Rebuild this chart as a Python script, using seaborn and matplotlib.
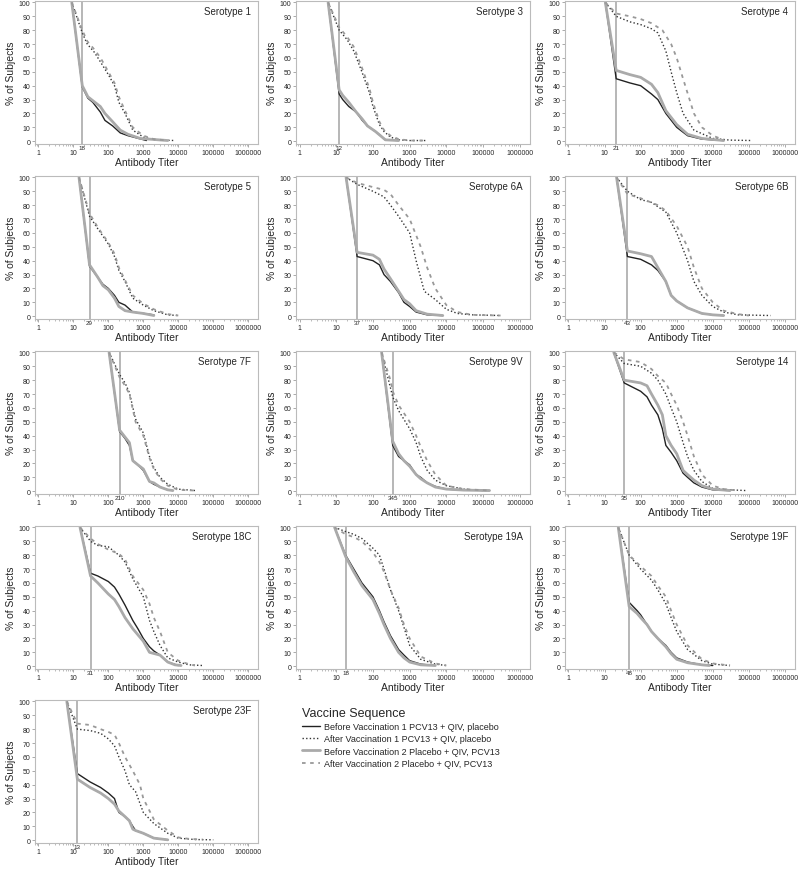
import matplotlib
matplotlib.use("Agg")
import matplotlib.pyplot as plt
from matplotlib.lines import Line2D
from matplotlib.ticker import LogLocator, NullFormatter, FixedLocator
import seaborn as sns

# serotypes and the LLOQ drawn as a vertical reference line
serotypes = ["1", "3", "4", "5", "6A", "6B", "7F", "9V", "14", "18C", "19A", "19F", "23F"]
lloq = [18, 12, 21, 29, 37, 43, 210, 345, 35, 31, 18, 48, 13]
start_titer = [9, 6, 10.5, 14.5, 18.5, 21.5, 105, 172, 18, 15.5, 9, 24, 6.5]

# reverse cumulative curves, (titers after the LLOQ, % of subjects)
before1 = {
    "1": ([18, 26, 36, 59, 80, 133, 219, 364, 817, 1230], [39, 31, 28, 21, 15, 11, 6, 4, 1.7, 0.5]),
    "3": ([12, 15, 22, 35, 51, 71, 117, 160, 218, 500], [34, 30, 25, 21, 15, 11, 7, 4, 1, 0.5]),
    "4": ([21, 50, 100, 200, 300, 500, 1000, 2000, 5000, 20000], [45, 42, 40, 34, 30, 20, 10, 4, 1.5, 0.5]),
    "5": ([29, 50, 70, 100, 150, 200, 300, 500, 1000, 2000], [36, 28, 23, 20, 15, 10, 8, 3, 2, 1]),
    "6A": ([37, 100, 150, 200, 300, 500, 700, 1000, 1500, 3000, 8000], [43, 40, 37, 30, 25, 17, 10, 7, 3, 1, 0.5]),
    "6B": ([43, 100, 200, 300, 500, 700, 1000, 2000, 5000, 10000, 20000], [43, 41, 37, 33, 25, 15, 11, 6, 2, 1, 0.5]),
    "7F": ([210, 300, 400, 500, 700, 1000, 1500, 2000, 3000, 5000, 7000], [43, 38, 33, 22, 19, 15, 7, 5, 3, 1, 0.5]),
    "9V": ([345, 500, 700, 1000, 1500, 2000, 3000, 5000, 10000, 30000, 150000], [33, 25, 22, 19, 12, 10, 6, 3.5, 1.5, 0.8, 0.5]),
    "14": ([35, 100, 150, 200, 300, 400, 500, 700, 1000, 1500, 2000, 3000, 5000, 10000, 30000],
           [78, 72, 68, 62, 55, 45, 33, 28, 22, 13, 10, 6, 3, 1, 0.5]),
    "18C": ([31, 50, 100, 150, 200, 300, 500, 700, 1000, 1500, 2000, 3000, 5000, 10000],
            [67, 65, 61, 57, 52, 44, 33, 27, 20, 14, 11, 8, 3, 0.5]),
    "19A": ([18, 30, 50, 100, 150, 200, 300, 500, 700, 1000, 2000, 5000], [80, 70, 60, 50, 40, 32, 22, 12, 8, 4, 1.5, 0.5]),
    "19F": ([48, 80, 100, 150, 200, 300, 500, 700, 1000, 2000, 5000, 10000], [46, 40, 37, 30, 25, 20, 15, 10, 6, 3, 1, 0.5]),
    "23F": ([13, 30, 60, 100, 150, 200, 300, 400, 500, 600, 1000, 2000, 5000],
            [48, 42, 38, 34, 30, 20, 17, 14, 10, 7, 5, 1.5, 0.3]),
}
after1 = {
    "1": ([18, 25, 40, 60, 100, 150, 200, 300, 500, 1000, 2000, 8000], [78, 70, 64, 57, 48, 40, 28, 20, 8, 3, 1, 0.5]),
    "3": ([12, 20, 30, 50, 80, 100, 150, 200, 300, 500, 1000, 3000], [80, 73, 65, 50, 35, 25, 12, 7, 3, 1, 0.5, 0.5]),
    "4": ([21, 50, 100, 200, 300, 500, 700, 1000, 1500, 3000, 10000, 30000, 120000],
          [90, 86, 84, 81, 78, 65, 50, 35, 20, 8, 2, 0.8, 0.5]),
    "5": ([29, 50, 100, 150, 200, 300, 500, 1000, 2000, 5000, 10000], [72, 63, 52, 43, 33, 25, 13, 8, 4, 1, 0.5]),
    "6A": ([37, 100, 200, 300, 500, 1000, 1500, 2500, 5000, 10000, 20000, 50000, 300000],
           [95, 90, 86, 80, 72, 60, 40, 18, 12, 5, 2, 1, 0.5]),
    "6B": ([43, 100, 200, 500, 1000, 2000, 3000, 5000, 10000, 20000, 50000, 400000],
           [90, 84, 82, 75, 60, 40, 25, 15, 7, 3, 1, 0.5]),
    "7F": ([210, 300, 400, 600, 1000, 1500, 2000, 3000, 5000, 10000, 30000], [84, 78, 71, 52, 42, 25, 17, 10, 5, 1.5, 0.5]),
    "9V": ([345, 500, 1000, 1500, 2000, 3000, 5000, 10000, 30000, 100000], [68, 58, 45, 35, 25, 15, 8, 4, 1.5, 0.5]),
    "14": ([35, 100, 200, 300, 500, 700, 1000, 1500, 2000, 3000, 5000, 10000, 30000, 80000],
           [92, 90, 85, 80, 70, 60, 50, 35, 25, 15, 7, 2, 1, 0.5]),
    "18C": ([31, 50, 100, 200, 300, 500, 1000, 1500, 2000, 3000, 5000, 10000, 20000, 50000],
            [90, 87, 86, 80, 75, 63, 50, 33, 25, 15, 6, 3, 1, 0.5]),
    "19A": ([18, 30, 50, 100, 150, 200, 300, 500, 700, 1000, 2000, 5000, 10000],
            [97, 95, 92, 85, 80, 70, 55, 40, 28, 15, 5, 1.5, 0.5]),
    "19F": ([48, 100, 200, 300, 500, 700, 1000, 2000, 5000, 10000, 30000], [80, 70, 62, 55, 45, 35, 25, 12, 4, 1.5, 0.5]),
    "23F": ([13, 30, 60, 100, 150, 200, 300, 400, 600, 1000, 2000, 5000, 10000, 30000, 100000],
            [80, 79, 77, 73, 68, 60, 50, 40, 35, 20, 12, 5, 1.5, 0.5, 0.3]),
}
before2 = {
    "1": ([18, 26, 59, 80, 133, 219, 364, 817, 5000], [40, 32, 25, 20, 14, 8, 5, 2, 0.5]),
    "3": ([12, 15, 22, 35, 51, 71, 117, 160, 218, 500], [37, 33, 28, 21, 16, 11, 7, 4, 1, 0.5]),
    "4": ([21, 50, 100, 200, 300, 500, 1000, 2000, 5000, 20000], [51, 48, 46, 41, 35, 22, 12, 5, 2, 0.5]),
    "5": ([29, 50, 70, 100, 150, 200, 300, 500, 1000, 2000], [37, 28, 22, 19, 13, 7, 4, 3, 2, 0.5]),
    "6A": ([37, 100, 150, 200, 300, 500, 700, 1000, 1500, 3000, 8000], [46, 44, 41, 34, 27, 18, 12, 9, 4, 1.5, 0.5]),
    "6B": ([43, 100, 200, 300, 500, 700, 1000, 2000, 5000, 10000, 20000], [47, 45, 43, 35, 25, 15, 11, 6, 2, 1, 0.5]),
    "7F": ([210, 300, 400, 500, 700, 1000, 1500, 2000, 3000, 5000, 7000], [44, 39, 35, 22, 19, 16, 7, 6, 3, 1, 0.5]),
    "9V": ([345, 500, 700, 1000, 1500, 2000, 3000, 5000, 10000, 30000, 150000], [36, 27, 22, 18, 12, 9, 6, 3, 1.5, 0.8, 0.5]),
    "14": ([35, 100, 150, 200, 300, 400, 500, 700, 1000, 1500, 2000, 3000, 5000, 10000, 30000],
           [80, 78, 76, 70, 62, 55, 40, 33, 27, 15, 12, 8, 4, 1.5, 0.5]),
    "18C": ([31, 50, 100, 150, 200, 300, 500, 1000, 1500, 3000, 5000, 8000, 12000],
            [65, 60, 52, 48, 43, 35, 27, 18, 10, 8, 3, 1, 0.5]),
    "19A": ([18, 30, 50, 100, 150, 200, 300, 500, 700, 1000, 2000, 5000], [79, 68, 58, 48, 38, 30, 20, 10, 6, 3, 1, 0.5]),
    "19F": ([48, 80, 100, 150, 200, 300, 500, 700, 1000, 2000, 5000, 8000], [43, 38, 35, 30, 25, 20, 14, 9, 5, 2.5, 1, 0.5]),
    "23F": ([13, 30, 60, 100, 150, 200, 300, 400, 500, 600, 1000, 2000, 5000],
            [44, 38, 34, 30, 26, 21, 17, 14, 8, 7, 5, 1.5, 0.3]),
}
after2 = {
    "1": ([18, 25, 40, 60, 100, 150, 200, 300, 500, 1000, 2000, 5000], [80, 72, 66, 60, 50, 42, 32, 22, 10, 4, 1.5, 0.5]),
    "3": ([12, 20, 30, 50, 80, 100, 150, 200, 300, 500, 1000, 3000], [82, 75, 68, 53, 38, 28, 14, 8, 4, 1.5, 0.5, 0.5]),
    "4": ([21, 50, 100, 200, 400, 700, 1000, 1500, 3000, 5000, 10000, 20000],
          [92, 90, 88, 85, 80, 70, 60, 45, 20, 10, 4, 1]),
    "5": ([29, 50, 100, 150, 200, 300, 500, 1000, 2000, 5000, 10000], [74, 64, 53, 45, 35, 26, 15, 9, 5, 1.5, 0.5]),
    "6A": ([37, 100, 200, 300, 500, 1000, 2000, 3000, 5000, 10000, 20000, 50000, 300000],
           [96, 93, 91, 88, 80, 70, 50, 35, 20, 8, 3, 1, 0.5]),
    "6B": ([43, 100, 300, 500, 1000, 2000, 3000, 5000, 10000, 20000, 50000, 100000],
           [88, 85, 80, 76, 65, 50, 35, 20, 10, 4, 1.5, 0.5]),
    "7F": ([210, 300, 400, 600, 1000, 1500, 2000, 3000, 5000, 10000, 30000], [82, 76, 70, 50, 40, 24, 16, 9, 4, 1, 0.5]),
    "9V": ([300, 345, 500, 1000, 1500, 2000, 3000, 5000, 10000, 30000, 150000], [80, 72, 62, 50, 40, 32, 22, 12, 4, 1.5, 0.5]),
    "14": ([35, 100, 200, 300, 500, 700, 1000, 1500, 2000, 3000, 5000, 10000, 20000, 50000],
           [95, 93, 88, 83, 78, 70, 62, 50, 40, 25, 12, 4, 1.5, 0.5]),
    "18C": ([31, 50, 100, 200, 300, 500, 1000, 1500, 2000, 3000, 5000, 10000, 20000, 30000],
            [92, 88, 84, 81, 77, 65, 55, 45, 35, 25, 10, 4, 1.5, 0.5]),
    "19A": ([18, 30, 50, 100, 150, 200, 300, 500, 700, 1000, 2000, 5000, 10000],
            [95, 93, 90, 82, 75, 68, 55, 42, 30, 20, 7, 2, 0.5]),
    "19F": ([48, 100, 200, 300, 500, 700, 1000, 2000, 5000, 10000, 30000], [80, 72, 65, 58, 50, 40, 30, 15, 5, 2, 0.5]),
    "23F": ([13, 30, 60, 100, 150, 200, 300, 500, 800, 1000, 2000, 5000, 10000, 20000, 50000],
            [84, 83, 80, 78, 76, 70, 60, 50, 40, 30, 15, 7, 2, 1, 0.5]),
}

series_labels = [
    "Before Vaccination 1 PCV13 + QIV, placebo",
    "After Vaccination 1 PCV13 + QIV, placebo",
    "Before Vaccination 2 Placebo + QIV, PCV13",
    "After Vaccination 2 Placebo + QIV, PCV13",
]
x_ticks = [1, 10, 100, 1000, 10000, 100000, 1000000]

sns.set_style("white")
plt.rcParams["font.family"] = ["Liberation Sans", "DejaVu Sans"]

styles = [
    dict(color="#222222", lw=1.0, linestyle="-"),
    dict(color="#333333", lw=1.0, linestyle=(0, (1, 1.6))),
    dict(color="#aaaaaa", lw=2.0, linestyle="-"),
    dict(color="#999999", lw=1.3, linestyle=(0, (2, 2.5))),
]

fig = plt.figure(figsize=(8, 8.7), dpi=100)
col_left = [35, 296, 565]
col_width = [223, 234, 230]
row_top = [2, 177, 352, 527, 701]
ax_h = 143

for i, sero in enumerate(serotypes):
    r, c = divmod(i, 3)
    ax = fig.add_axes([col_left[c] / 800, 1 - (row_top[r] + ax_h) / 870,
                       col_width[c] / 800, ax_h / 870])
    ax.axvline(lloq[i], color="#aaaaaa", lw=1.2, zorder=1)
    for data, st in zip([before1, after1, before2, after2], styles):
        xs, ys = data[sero]
        xs = [start_titer[i]] + list(xs)
        ys = [100] + list(ys)
        sns.lineplot(x=xs, y=ys, ax=ax, estimator=None, sort=False, **st)
    ax.set_xscale("log")
    ax.set_xlim(0.8, 1.9e6)
    ax.set_ylim(-2, 101)
    ax.xaxis.set_major_locator(FixedLocator(x_ticks))
    ax.set_xticklabels([str(t) for t in x_ticks])
    ax.xaxis.set_minor_locator(LogLocator(base=10, subs=range(2, 10), numticks=20))
    ax.xaxis.set_minor_formatter(NullFormatter())
    ax.set_yticks(range(0, 101, 10))
    ax.tick_params(axis="both", which="major", labelsize=5, length=2, width=0.5,
                   color="#888888", pad=1.5, bottom=True, left=True)
    ax.tick_params(axis="x", which="minor", length=1.2, width=0.4, color="#888888", bottom=True)
    for sp in ax.spines.values():
        sp.set_color("#bbbbbb")
        sp.set_linewidth(0.8)
    ax.set_xlabel("Antibody Titer", fontsize=7.5, labelpad=1)
    ax.set_ylabel("% of Subjects", fontsize=7.5, labelpad=2)
    ax.text(0.97, 0.93, f"Serotype {sero}", transform=ax.transAxes,
            ha="right", va="center", fontsize=7)
    ax.text(lloq[i], -0.01, str(lloq[i]), transform=ax.get_xaxis_transform(),
            ha="center", va="top", fontsize=4.5)

handles = [Line2D([0], [0], **st) for st in styles]
leg = fig.legend(handles, series_labels, loc="upper left",
                 bbox_to_anchor=(294 / 800, 1 - 700 / 870), frameon=False,
                 title="Vaccine Sequence", title_fontsize=9, fontsize=6.5,
                 handlelength=2.0, handletextpad=0.4, labelspacing=0.35,
                 alignment="left")

fig.savefig("out.png", dpi=100)
